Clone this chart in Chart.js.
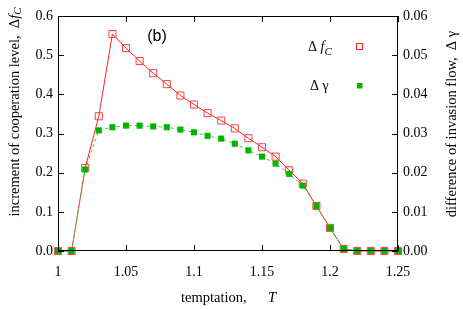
<!DOCTYPE html>
<html><head><meta charset="utf-8">
<script src="https://cdn.jsdelivr.net/npm/chart.js@4.4.0/dist/chart.umd.min.js"></script>
<style>html,body{margin:0;padding:0;background:#fff}canvas{display:block}</style>
</head><body>
<canvas id="c" width="463" height="309"></canvas>
<script>
const temptation = [1.00,1.01,1.02,1.03,1.04,1.05,1.06,1.07,1.08,1.09,1.10,1.11,1.12,1.13,1.14,1.15,1.16,1.17,1.18,1.19,1.20,1.21,1.22,1.23,1.24,1.25];
const deltaFc = [0,0,0.212,0.344,0.554,0.518,0.485,0.454,0.426,0.397,0.374,0.352,0.333,0.313,0.288,0.265,0.241,0.206,0.172,0.115,0.059,0.005,0,0,0,0];
const deltaGamma = [0,0,0.0208,0.0308,0.0316,0.0320,0.0320,0.0318,0.0316,0.0310,0.0303,0.0294,0.0287,0.0274,0.0257,0.0241,0.0223,0.0197,0.0167,0.0115,0.0059,0.0005,0,0,0,0];

const SERIF = '"Liberation Serif","Times New Roman",serif';
const RED = '#ff2020', GREEN = '#00b400';

function runs(ctx, list, x, y, align) {
  let w = 0;
  list.forEach(r => { ctx.font = r.f; w += ctx.measureText(r.t).width; });
  let cx = align === 'center' ? x - w/2 : x;
  list.forEach(r => { ctx.font = r.f; ctx.fillText(r.t, cx, y + (r.dy||0)); cx += ctx.measureText(r.t).width; });
}

const decor = {
  id: 'decor',
  afterDraw(chart) {
    const ctx = chart.ctx, a = chart.chartArea;
    const xs = chart.scales.x, ys = chart.scales.y;
    ctx.save();
    ctx.strokeStyle = '#000'; ctx.lineWidth = 1;
    ctx.strokeRect(a.left+0.5, a.top+0.5, a.right-a.left-1, a.bottom-a.top-1);
    ctx.beginPath();
    xs.ticks.forEach(t => { const p = Math.round(xs.getPixelForValue(t.value))+0.5;
      ctx.moveTo(p, a.bottom); ctx.lineTo(p, a.bottom-6);
      ctx.moveTo(p, a.top); ctx.lineTo(p, a.top+6); });
    ys.ticks.forEach(t => { const p = Math.round(ys.getPixelForValue(t.value))+0.5;
      ctx.moveTo(a.left, p); ctx.lineTo(a.left+6, p);
      ctx.moveTo(a.right, p); ctx.lineTo(a.right-6, p); });
    ctx.stroke();
    ctx.fillStyle = '#000'; ctx.textBaseline = 'middle';
    // bottom title
    runs(ctx, [{t:'temptation,', f:'14.5px '+SERIF}], 181, 298);
    runs(ctx, [{t:'T', f:'italic 14.5px '+SERIF}], 268, 298);
    // left title
    ctx.save(); ctx.translate(15, 112); ctx.rotate(-Math.PI/2);
    runs(ctx, [{t:'increment of cooperation level,  Δ', f:'14.5px '+SERIF},{t:'f', f:'italic 14.5px '+SERIF},{t:'C', f:'italic 11px '+SERIF, dy:3}], 0, 0, 'center');
    ctx.restore();
    // right title
    ctx.save(); ctx.translate(452, 124); ctx.rotate(-Math.PI/2);
    runs(ctx, [{t:'difference of invasion flow,  Δ γ', f:'14.5px '+SERIF}], 0, 0, 'center');
    ctx.restore();
    // (b)
    ctx.font = '16px "Liberation Sans",Arial,sans-serif'; ctx.textAlign = 'center';
    ctx.fillText('(b)', 157, 37);
    ctx.textAlign = 'left';
    // legend
    runs(ctx, [{t:'Δ ', f:'14px '+SERIF},{t:'f', f:'italic 14px '+SERIF},{t:'C', f:'italic 11px '+SERIF, dy:5}], 308, 47);
    runs(ctx, [{t:'Δ γ', f:'14px '+SERIF}], 310, 86);
    ctx.strokeStyle = RED; ctx.lineWidth = 1;
    ctx.strokeRect(356.5, 43.5, 6, 6);
    ctx.fillStyle = GREEN; ctx.fillRect(357, 83, 5.5, 5.5);
    ctx.restore();
  }
};

new Chart(document.getElementById('c'), {
  type: 'line',
  data: { datasets: [
    { label: 'Δγ', data: temptation.map((x,i)=>({x, y: deltaGamma[i]})), yAxisID: 'y2',
      borderColor: '#33cc33', borderWidth: 1, borderDash: [3,3], pointStyle: 'rect', pointRadius: 4.3,
      pointBackgroundColor: GREEN, pointBorderColor: GREEN, pointBorderWidth: 0, tension: 0, clip: false },
    { label: 'Δf_C', data: temptation.map((x,i)=>({x, y: deltaFc[i]})), yAxisID: 'y',
      borderColor: RED, borderWidth: 1, pointStyle: 'rect', pointRadius: 5,
      pointBackgroundColor: 'rgba(255,255,255,0)', pointBorderColor: '#ff4040', pointBorderWidth: 1, tension: 0, clip: false }
  ]},
  options: {
    responsive: false, animation: false, devicePixelRatio: 1,
    layout: { padding: { top: 16, left: 0, right: 0, bottom: 0 } },
    plugins: { legend: { display: false }, tooltip: { enabled: false }, title: { display: false } },
    scales: {
      x: { type: 'linear', min: 1, max: 1.25,
        ticks: { stepSize: 0.05, padding: 13, color: '#000', font: { family: SERIF, size: 14 },
          callback: v => String(parseFloat(v.toFixed(2))) },
        grid: { display: false, drawTicks: false }, border: { display: false },
        afterFit: s => { s.height = 58; } },
      y: { position: 'left', min: 0, max: 0.6,
        ticks: { stepSize: 0.1, padding: 5, color: '#000', font: { family: SERIF, size: 14 }, callback: v => v.toFixed(1) },
        grid: { display: false, drawTicks: false }, border: { display: false },
        afterFit: s => { s.width = 58; } },
      y2: { position: 'right', min: 0, max: 0.06,
        ticks: { stepSize: 0.01, padding: 5, color: '#000', font: { family: SERIF, size: 14 }, callback: v => v.toFixed(2) },
        grid: { display: false, drawTicks: false }, border: { display: false },
        afterFit: s => { s.width = 65; } }
    }
  },
  plugins: [decor]
});
</script>
</body></html>
